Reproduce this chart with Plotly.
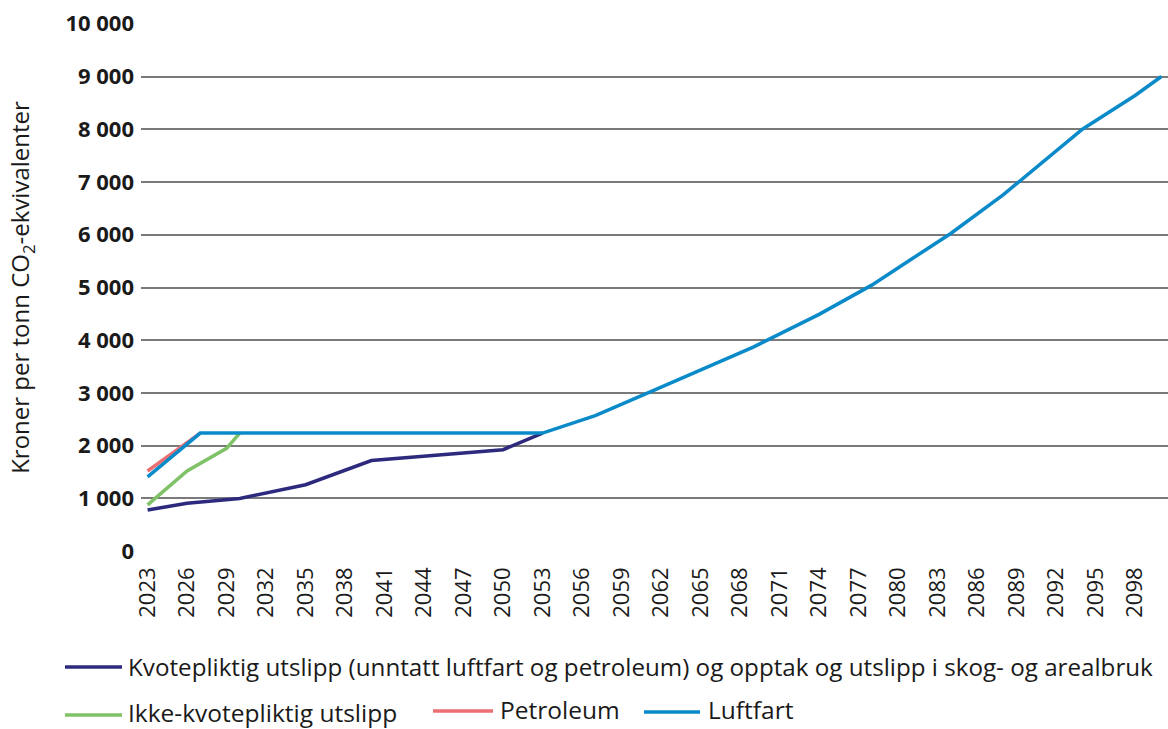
import plotly.graph_objects as go

# Karbonpris, kroner per tonn CO2-ekvivalenter
years_kvote = [2023, 2026, 2030, 2035, 2040, 2050, 2053]
kvote = [780, 910, 1000, 1260, 1720, 1925, 2240]

years_ikke = [2023, 2026, 2029, 2030]
ikke_kvote = [880, 1520, 1950, 2240]

years_petroleum = [2023, 2027]
petroleum = [1520, 2240]

years_luftfart = [2023, 2027, 2053, 2057, 2061, 2065, 2069, 2074, 2078,
                  2081, 2084, 2088, 2091, 2094, 2098, 2100]
luftfart = [1410, 2240, 2240, 2570, 3000, 3430, 3870, 4490, 5045,
            5535, 6025, 6760, 7370, 8000, 8640, 9000]

x_ticks = list(range(2023, 2099, 3))
y_ticks = list(range(0, 10001, 1000))

names = [
    "Kvotepliktig utslipp (unntatt luftfart og petroleum) og opptak og utslipp i skog- og arealbruk",
    "Ikke-kvotepliktig utslipp",
    "Petroleum",
    "Luftfart",
]
colors = ["#2d2a7d", "#7fc267", "#ec6f73", "#0a8ac8"]

FONT = "Open Sans"
W, H = 1168, 729
L, R, T, B = 141, 0, 23, 177
PW, PH = W - L - R, H - T - B

fig = go.Figure()
series = [
    (years_kvote, kvote),
    (years_ikke, ikke_kvote),
    (years_petroleum, petroleum),
    (years_luftfart, luftfart),
]
for (xs, ys), name, col in zip(series, names, colors):
    fig.add_trace(go.Scatter(
        x=xs, y=ys, name=name, mode="lines",
        line=dict(color=col, width=3.5),
        showlegend=False,
    ))


def px_x(px):
    return (px - L) / PW


def px_y(py):
    return (H - B - py) / PH


# Legend below the chart: (line start, line end, text x, line y, text y, size) in pixels
legend_pos = [
    (65, 122, 127, 667, 666, 24.2),
    (65, 122, 127, 715, 712, 24.5),
    (433, 493, 499, 711, 709, 24.5),
    (644, 700, 707, 712, 709, 24.5),
]
for (x0, x1, tx, ly, ty, fs), name, col in zip(legend_pos, names, colors):
    fig.add_shape(
        type="line", xref="paper", yref="paper",
        x0=px_x(x0), x1=px_x(x1), y0=px_y(ly), y1=px_y(ly),
        line=dict(color=col, width=3.5),
    )
    fig.add_annotation(
        xref="paper", yref="paper", x=px_x(tx), y=px_y(ty),
        xanchor="left", yanchor="middle", showarrow=False,
        text=name, font=dict(family=FONT, size=fs, color="#1a1a1a"),
        borderpad=0,
    )

fig.update_layout(
    width=W, height=H,
    margin=dict(l=L, r=R, t=T, b=B),
    paper_bgcolor="white", plot_bgcolor="white",
    separators=", ",
    showlegend=False,
    xaxis=dict(
        range=[2022.5, 2100.5],
        tickmode="array", tickvals=x_ticks,
        tickangle=-90,
        tickfont=dict(family=FONT, size=22, color="#1a1a1a"),
        ticklabelstandoff=10,
        showgrid=False, zeroline=False, showline=False,
        ticks="",
    ),
    yaxis=dict(
        range=[-15, 10015],
        tickmode="array", tickvals=y_ticks,
        tickformat=",d",
        tickfont=dict(family=FONT, size=22, color="#1a1a1a", weight="bold"),
        ticklabelstandoff=6,
        showgrid=True, gridcolor="#7a7a7a", gridwidth=1.5,
        zeroline=False, showline=False, ticks="",
        title=dict(
            text="Kroner per tonn CO<sub>2</sub>-ekvivalenter",
            font=dict(family=FONT, size=24, color="#1a1a1a"),
            standoff=28,
        ),
    ),
)

fig.write_html("out.html")
